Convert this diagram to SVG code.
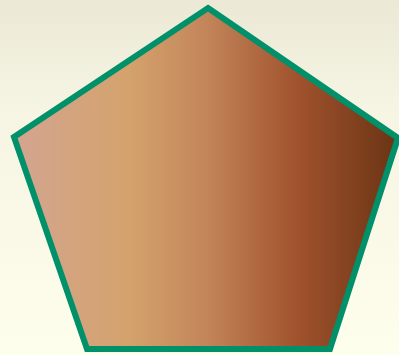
<svg xmlns="http://www.w3.org/2000/svg" width="399" height="355" viewBox="0 0 399 355">
  <defs>
    <linearGradient id="bg" x1="0" y1="0" x2="0" y2="1">
      <stop offset="0" stop-color="#ebe8d6"/>
      <stop offset="0.3" stop-color="#f6f4e2"/>
      <stop offset="1" stop-color="#fefeec"/>
    </linearGradient>
    <linearGradient id="fill" gradientUnits="userSpaceOnUse" x1="14" y1="0" x2="398" y2="0">
      <stop offset="0" stop-color="#d3a591"/>
      <stop offset="0.3" stop-color="#d4a26c"/>
      <stop offset="0.5" stop-color="#c3855a"/>
      <stop offset="0.74" stop-color="#a0522d"/>
      <stop offset="1" stop-color="#6a3414"/>
    </linearGradient>
    <style>
      .shape { fill: url(#fill); stroke: #00916a; stroke-width: 6; stroke-linejoin: miter; }
    </style>
  </defs>
  <rect x="0" y="0" width="399" height="355" fill="url(#bg)"/>
  <g id="pentagon">
    <polygon class="shape" points="208,8 398,138 330,349 87,349 14,137"/>
  </g>
</svg>
